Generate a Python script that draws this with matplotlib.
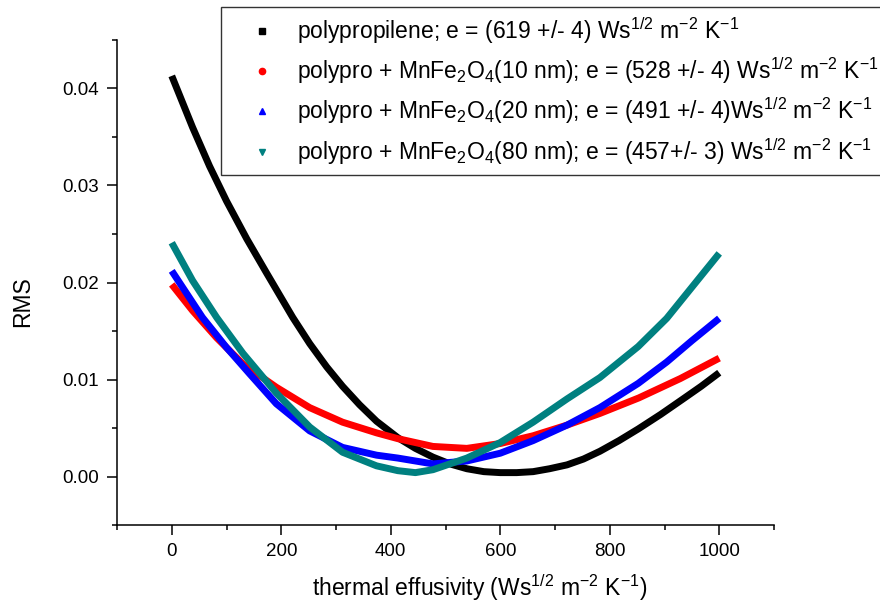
import numpy as np
import matplotlib.pyplot as plt
from matplotlib.lines import Line2D

plt.rcParams['font.family'] = ['Liberation Sans', 'DejaVu Sans']
plt.rcParams['mathtext.fontset'] = 'custom'
plt.rcParams['mathtext.rm'] = 'Liberation Sans'
plt.rcParams['mathtext.it'] = 'Liberation Sans'
plt.rcParams['mathtext.default'] = 'regular'

# effusivity (Ws^1/2 m^-2 K^-1) and RMS for each sample
e_pp = [0, 38, 69, 100, 137, 173, 197, 221, 252, 283, 312, 343, 374, 413,
        445, 477, 508, 539, 570, 600, 630, 660, 690, 722, 752, 782, 817,
        852, 893, 934, 967, 1000]
rms_pp = [0.0413, 0.0360, 0.0320, 0.0284, 0.0245, 0.0210, 0.0187, 0.0164,
          0.0137, 0.0113, 0.0093, 0.0074, 0.0057, 0.0040, 0.0029, 0.0020,
          0.0013, 0.0008, 0.0005, 0.0004, 0.0004, 0.0005, 0.0008, 0.0012,
          0.0018, 0.0026, 0.0037, 0.0049, 0.0064, 0.0080, 0.0093, 0.0107]

e_10nm = [0, 38, 82, 130, 191, 252, 312, 374, 413, 477, 539, 600, 660,
          722, 782, 853, 929, 1000]
rms_10nm = [0.0198, 0.0171, 0.0143, 0.0116, 0.0092, 0.0071, 0.0056, 0.0045,
            0.0039, 0.0031, 0.0029, 0.0034, 0.0042, 0.0053, 0.0065, 0.0081,
            0.0101, 0.0122]

e_20nm = [0, 56, 100, 142, 191, 252, 312, 374, 413, 477, 539, 600, 660,
          722, 782, 852, 904, 950, 1000]
rms_20nm = [0.0212, 0.0164, 0.0133, 0.0106, 0.0075, 0.0047, 0.0030, 0.0022,
            0.0019, 0.0013, 0.0016, 0.0024, 0.0037, 0.0053, 0.0071, 0.0096,
            0.0118, 0.0140, 0.0163]

e_80nm = [0, 38, 82, 130, 191, 252, 312, 374, 413, 445, 477, 539, 600,
          660, 722, 782, 852, 904, 1000]
rms_80nm = [0.0241, 0.0202, 0.0164, 0.0127, 0.0086, 0.0051, 0.0025, 0.0011,
            0.0006, 0.0004, 0.0007, 0.0019, 0.0035, 0.0056, 0.0080, 0.0102,
            0.0134, 0.0163, 0.0230]

unit = r'Ws$^{1/2}$ m$^{-2}$ K$^{-1}$'
labels = [
    'polypropilene; e = (619 +/- 4) ' + unit,
    r'polypro + MnFe$_2$O$_4$(10 nm); e = (528 +/- 4) ' + unit,
    r'polypro + MnFe$_2$O$_4$(20 nm); e = (491 +/- 4)' + unit,
    r'polypro + MnFe$_2$O$_4$(80 nm); e = (457+/- 3) ' + unit,
]
colors = ['#000000', '#ff0000', '#0000ff', '#008080']
markers = ['s', 'o', '^', 'v']
series = [(e_pp, rms_pp), (e_10nm, rms_10nm), (e_20nm, rms_20nm),
          (e_80nm, rms_80nm)]

fig = plt.figure(figsize=(8.8, 6.04), dpi=100)
ax = fig.add_axes([117 / 880, 79 / 604, 657 / 880, 485 / 604])

for (e, rms), c in zip(series, colors):
    ax.plot(e, rms, color=c, lw=5, solid_capstyle='butt',
            solid_joinstyle='round')

ax.set_xlim(-100, 1100)
ax.set_ylim(-0.005, 0.045)
ax.set_xticks(np.arange(0, 1001, 200))
ax.set_xticks(np.arange(-100, 1101, 200), minor=True)
ax.set_yticks(np.arange(0, 0.041, 0.01))
ax.set_yticks(np.arange(-0.005, 0.046, 0.01), minor=True)
ax.set_yticklabels(['0.00', '0.01', '0.02', '0.03', '0.04'])

for side in ['top', 'right']:
    ax.spines[side].set_visible(False)
for side in ['left', 'bottom']:
    ax.spines[side].set_linewidth(1.1)
ax.tick_params(which='major', length=7, width=1.1, labelsize=13.5, pad=6)
ax.tick_params(which='minor', length=3.8, width=1.1)

ax.set_xlabel('thermal effusivity (' + unit + ')', fontsize=16.5, labelpad=9)
ax.set_ylabel('RMS', fontsize=16.5, labelpad=20)
ax.xaxis.label.set_x(0.5525)
ax.yaxis.label.set_y(0.46)

handles = [Line2D([], [], ls='none', marker=m, color=c, markersize=4.5)
           for m, c in zip(markers, colors)]
leg = ax.legend(handles, labels, loc='upper left',
                bbox_to_anchor=(220.7 / 880, 1 - 7 / 604),
                bbox_transform=fig.transFigure, borderaxespad=0,
                fontsize=16.5, frameon=True, fancybox=False,
                edgecolor='#333333', framealpha=1, borderpad=0.35,
                handlelength=2.88, handletextpad=0.09, labelspacing=0.42)
leg.get_frame().set_linewidth(1.0)

fig.savefig('out.png', dpi=100)
